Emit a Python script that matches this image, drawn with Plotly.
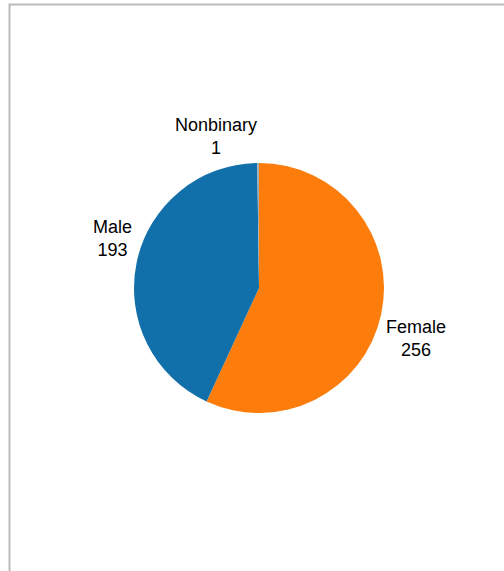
import math
import plotly.graph_objects as go

labels = ["Female", "Male", "Nonbinary"]
values = [256, 193, 1]
colors = ["#fc7d0b", "#1170aa", "#a3acb9"]

W, H = 504, 571
cx, cy, r = 259, 288, 125   # pie centre and radius in pixels
label_pad = 4               # gap between circle and label corner

fig = go.Figure(go.Pie(
    labels=labels,
    values=values,
    marker=dict(colors=colors, line=dict(width=0)),
    textinfo="none",
    sort=False,
    direction="clockwise",
    rotation=0,
    showlegend=False,
    hoverinfo="label+value+percent",
    domain=dict(x=[(cx - r) / W, (cx + r) / W], y=[1 - (cy + r) / H, 1 - (cy - r) / H]),
    automargin=False,
))

# Outside labels anchored by their nearest corner at each slice's mid-angle
total = sum(values)
annotations = []
cum = 0
for lab, val in zip(labels, values):
    mid = (cum + val / 2) / total * 2 * math.pi  # clockwise from 12 o'clock
    cum += val
    dx = math.sin(mid)
    dy = -math.cos(mid)  # pixel y grows downward
    px = cx + (r + label_pad) * dx
    py = cy + (r + label_pad) * dy
    annotations.append(dict(
        x=px / W, y=1 - py / H, xref="paper", yref="paper",
        text=f"{lab}<br>{val}", showarrow=False,
        xanchor="left" if dx >= 0 else "right",
        yanchor="top" if dy >= 0 else "bottom",
        align="center", borderpad=0,
        font=dict(family="Liberation Sans, Arial, sans-serif", size=18, color="#000000"),
    ))

fig.update_layout(
    width=W, height=H,
    margin=dict(l=0, r=0, t=0, b=0),
    paper_bgcolor="white",
    plot_bgcolor="white",
    annotations=annotations,
    shapes=[dict(type="rect", xref="paper", yref="paper",
                 x0=9.5 / W, x1=1.05, y0=-0.05, y1=1 - 4.5 / H,
                 line=dict(color="#bbbbbb", width=2), fillcolor="rgba(0,0,0,0)", layer="below")],
)

fig.write_html("out.html")
